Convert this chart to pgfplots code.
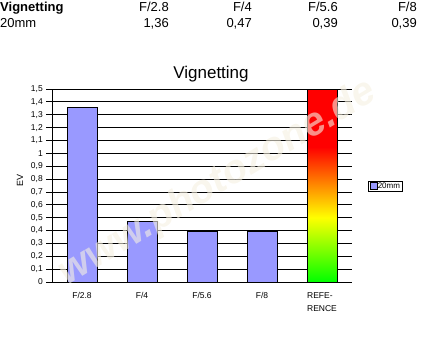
\documentclass[border=0pt]{standalone}
\usepackage{fontspec}
\setmainfont{Liberation Sans}
\usepackage{pgfplots}
\pgfplotsset{compat=1.18}
\definecolor{barblue}{RGB}{153,153,255}
\definecolor{wm}{RGB}{245,240,225}
\pgfdeclareverticalshading{vignref}{100bp}{color(0bp)=(green); color(25bp)=(green); color(41.7bp)=(yellow); color(60bp)=(red); color(100bp)=(red)}
\begin{document}
\begin{tikzpicture}[x=1pt,y=1pt]
\useasboundingbox (0,0) rectangle (427,341);
% header table
\begin{scope}[every node/.style={inner sep=0pt, font=\fontsize{13}{15}\selectfont}]
\node[anchor=base west, font=\fontsize{13}{15}\selectfont\bfseries] at (0,330) {Vignetting};
\node[anchor=base east] at (169,330) {F/2.8};
\node[anchor=base east] at (252,330) {F/4};
\node[anchor=base east] at (338,330) {F/5.6};
\node[anchor=base east] at (417,330) {F/8};
\node[anchor=base west] at (0,313) {20mm};
\node[anchor=base east] at (169,313) {1,36};
\node[anchor=base east] at (252,313) {0,47};
\node[anchor=base east] at (338,313) {0,39};
\node[anchor=base east] at (417,313) {0,39};
\end{scope}
\node[anchor=base, inner sep=0pt, font=\fontsize{17}{19}\selectfont] at (211,263) {Vignetting};
\node[rotate=90, inner sep=0pt, font=\fontsize{9}{10}\selectfont] at (20,161) {EV};
\begin{axis}[
  at={(52pt,59pt)}, anchor=south west,
  scale only axis, width=300pt, height=193pt,
  xmin=-0.5, xmax=4.5, ymin=0, ymax=1.5,
  axis x line*=bottom, axis y line*=left,
  axis line style={black, line width=0.8pt},
  tick align=outside,
  major tick length=6pt, minor tick length=7pt,
  xtick={0,1,2,3,4},
  xticklabels={F/2.8,F/4,F/5.6,F/8,{REFE-\\RENCE}},
  xtick style={draw=none},
  minor xtick={-0.5,0.5,1.5,2.5,3.5},
  minor tick style={black, line width=0.8pt},
  xticklabel style={align=left, font=\fontsize{8.5}{13}\selectfont, inner sep=0pt, anchor=north, yshift=-4pt},
  ytick={0,0.1,0.2,0.3,0.4,0.5,0.6,0.7,0.8,0.9,1,1.1,1.2,1.3,1.4,1.5},
  ytick style={black, line width=0.8pt},
  yticklabel style={font=\fontsize{8.5}{10}\selectfont, inner sep=0pt, anchor=east, xshift=-3pt,
    /pgf/number format/.cd, use comma, fixed, precision=1, assume math mode=true},
  ymajorgrids, grid style={black, line width=0.8pt},
  ybar, bar width=30pt,
  legend style={at={(axis description cs:1.053,0.497)}, anchor=west, draw=black, line width=0.6pt,
    font=\fontsize{8}{9}\selectfont, inner xsep=1.5pt, inner ysep=1pt, row sep=0pt,
    nodes={inner sep=0.5pt}},
  legend image code/.code={\draw[#1, line width=0.6pt] (0pt,-3.5pt) rectangle (7pt,3.5pt);},
]
\addplot[bar shift=0pt, fill=barblue, draw=black, line width=0.8pt] coordinates {(0,1.36) (1,0.47) (2,0.39) (3,0.39)};
\addlegendentry{20mm}
\addplot[forget plot, bar shift=0pt, shade, shading=vignref, draw=black, line width=0.8pt] coordinates {(4,1.5)};
\end{axis}
\node[rotate=31, inner sep=0pt, text=wm, opacity=0.6, font=\fontsize{40}{40}\selectfont\bfseries\itshape] at (218,158) {www.photozone.de};
\end{tikzpicture}
\end{document}
